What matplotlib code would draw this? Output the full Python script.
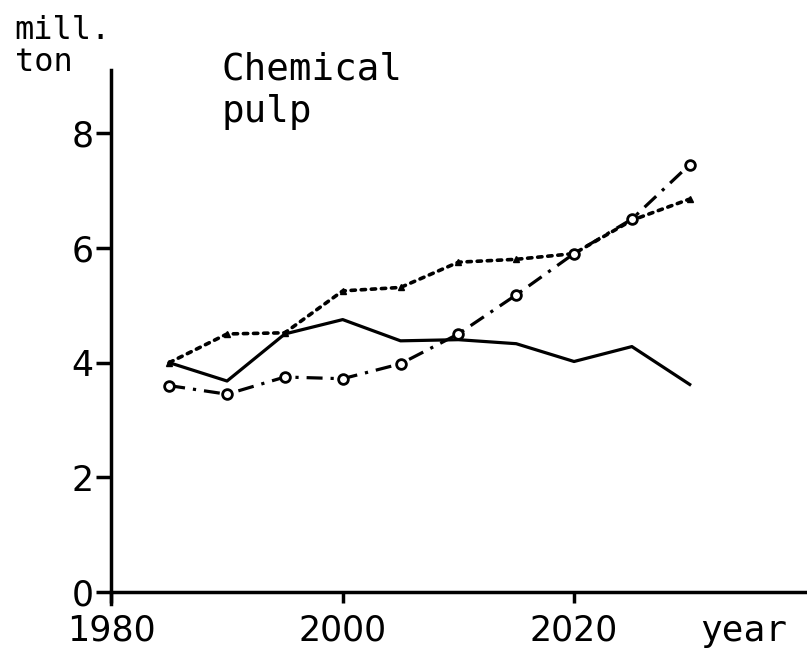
import matplotlib
matplotlib.use('Agg')
import matplotlib.pyplot as plt

years = [1985, 1990, 1995, 2000, 2005, 2010, 2015, 2020, 2025, 2030]

# solid line, no markers
production = [4.0, 3.68, 4.5, 4.75, 4.38, 4.4, 4.33, 4.02, 4.28, 3.62]
# dotted line, small triangles
demand_a = [4.0, 4.5, 4.52, 5.25, 5.31, 5.75, 5.8, 5.9, 6.48, 6.85]
# dash-dot line, open circles
demand_b = [3.6, 3.45, 3.75, 3.72, 3.98, 4.5, 5.18, 5.9, 6.5, 7.45]

yticks = [0, 2, 4, 6, 8]
xticks = [1980, 2000, 2020]

mono = ['DejaVu Sans Mono']

fig = plt.figure(figsize=(8.07, 6.53), dpi=100)
ax = fig.add_axes([0.138, 0.093, 0.86, 0.80])

ax.plot(years, production, color='black', lw=2.3)
ax.plot(years, demand_a, color='black', lw=2.6, ls=(0, (1.2, 1.6)),
        marker='^', ms=5, mfc='black', dash_capstyle='round')
ax.plot(years, demand_b, color='black', lw=2.3, ls=(0, (5, 2.5, 1, 2.5)),
        marker='o', ms=7, mfc='white', mew=2)

ax.set_xlim(1980, 2040)
ax.set_ylim(0, 9.1)
ax.spines['top'].set_visible(False)
ax.spines['right'].set_visible(False)
ax.spines['left'].set_linewidth(2.5)
ax.spines['bottom'].set_linewidth(2.5)
ax.spines['left'].set_bounds(-0.2, 9.1)

ax.set_xticks(xticks)
ax.set_yticks(yticks)
ax.set_xticklabels([str(v) for v in xticks], family='DejaVu Sans', fontsize=25)
ax.set_yticklabels([str(v) for v in yticks], family='DejaVu Sans', fontsize=25)
ax.tick_params(axis='y', length=11, width=2.5, pad=2)
ax.tick_params(axis='x', length=8, width=2.5, pad=7)

fig.text(0.018, 0.954, 'mill.', family=mono, fontsize=23, va='center')
fig.text(0.018, 0.905, 'ton', family=mono, fontsize=23, va='center')
fig.text(0.274, 0.893, 'Chemical', family=mono, fontsize=27, va='center')
fig.text(0.274, 0.828, 'pulp', family=mono, fontsize=27, va='center')
fig.text(0.868, 0.033, 'year', family=mono, fontsize=26, va='center')

fig.savefig('out.png', dpi=100)
